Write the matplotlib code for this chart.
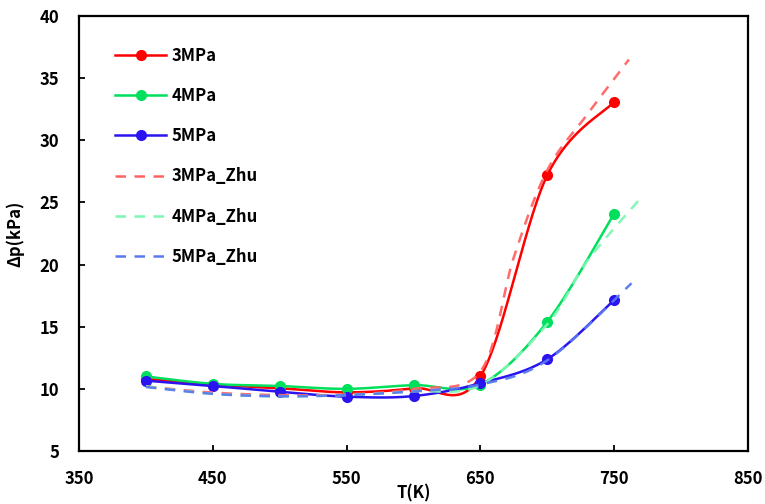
import numpy as np
import matplotlib
matplotlib.use("Agg")
import matplotlib.pyplot as plt
from matplotlib.lines import Line2D

plt.rcParams['font.family'] = ['Noto Sans CJK KR', 'DejaVu Sans']
plt.rcParams['font.weight'] = 'bold'

# Measured pressure drop (kPa) vs temperature (K)
T = [400, 450, 500, 550, 600, 650, 700, 750]
dp_3mpa = [10.8, 10.35, 10.05, 9.72, 10.05, 11.0, 27.2, 33.1]
dp_4mpa = [11.0, 10.4, 10.23, 10.0, 10.3, 10.35, 15.4, 24.1]
dp_5mpa = [10.66, 10.23, 9.77, 9.37, 9.42, 10.45, 12.38, 17.15]

# Zhu correlation curves
zhu_T_3 = [400, 450, 500, 550, 600, 650, 675, 700, 730, 761]
zhu_3 = [10.2, 9.7, 9.5, 9.55, 10.0, 11.4, 20.6, 27.6, 32.1, 36.5]
zhu_T_4 = [400, 450, 500, 550, 600, 650, 700, 730, 769]
zhu_4 = [10.2, 9.6, 9.4, 9.5, 9.8, 10.3, 15.2, 20.3, 25.25]
zhu_T_5 = [400, 450, 500, 550, 600, 650, 700, 763]
zhu_5 = [10.15, 9.6, 9.4, 9.5, 9.8, 10.35, 12.3, 18.5]

labels = ['3MPa', '4MPa', '5MPa', '3MPa_Zhu', '4MPa_Zhu', '5MPa_Zhu']
x_ticks = [350, 450, 550, 650, 750, 850]
y_ticks = [5, 10, 15, 20, 25, 30, 35, 40]

solid_colors = ['#ff0000', '#00e05c', '#2a14f0']
dash_colors = ['#ff6464', '#7cf8b4', '#5a78f0']
dash_pattern = (4.2, 3.4)
fs = 12


def smooth_curve(xs, ys, n=40):
    """Cubic Bezier smoothing through every point (spreadsheet-style)."""
    P = np.column_stack([xs, ys]).astype(float)
    m = len(P)
    pts = [P[0]]
    t = np.linspace(0, 1, n)[1:, None]
    for i in range(m - 1):
        p0 = P[i - 1] if i > 0 else P[i]
        p1, p2 = P[i], P[i + 1]
        p3 = P[i + 2] if i + 2 < m else P[i + 1]
        c1 = p1 + (p2 - p0) / 6.0
        c2 = p2 - (p3 - p1) / 6.0
        seg = ((1 - t) ** 3) * p1 + 3 * ((1 - t) ** 2) * t * c1 \
            + 3 * (1 - t) * t ** 2 * c2 + t ** 3 * p2
        pts.extend(seg)
    pts = np.array(pts)
    return pts[:, 0], pts[:, 1]


fig = plt.figure(figsize=(7.65, 5.04), dpi=100)
ax = fig.add_axes([79 / 765, 53 / 504, 669 / 765, 435 / 504])

lw = 1.8
for ys, c in zip([dp_3mpa, dp_4mpa, dp_5mpa], solid_colors):
    sx, sy = smooth_curve(T, ys)
    ax.plot(sx, sy, color=c, lw=lw, solid_capstyle='round', zorder=2)
    ax.plot(T, ys, 'o', color=c, ms=7, zorder=3)

for xs, ys, c in zip([zhu_T_3, zhu_T_4, zhu_T_5], [zhu_3, zhu_4, zhu_5], dash_colors):
    sx, sy = smooth_curve(xs, ys)
    ax.plot(sx, sy, color=c, lw=lw, dashes=dash_pattern, alpha=0.95, zorder=4)

ax.set_xlim(350, 850)
ax.set_ylim(5, 40)
ax.set_xticks(x_ticks)
ax.set_yticks(y_ticks)
ax.tick_params(direction='in', length=4, width=1.3, labelsize=fs, pad=14,
               top=False, right=False)
for lab in ax.get_xticklabels() + ax.get_yticklabels():
    lab.set_fontweight('bold')
for sp in ax.spines.values():
    sp.set_linewidth(1.6)
    sp.set_color('black')

ax.set_xlabel('T(K)', fontsize=fs, fontweight='bold', labelpad=-3)
ax.set_ylabel('Δp(kPa)', fontsize=fs, fontweight='bold', labelpad=11)

handles = [Line2D([], [], color=c, lw=lw, marker='o', ms=7) for c in solid_colors]
handles += [Line2D([], [], color=c, lw=lw, dashes=dash_pattern) for c in dash_colors]
leg = ax.legend(handles, labels, loc='upper left', bbox_to_anchor=(0.0435, 0.945),
                frameon=False, handlelength=3.1, handletextpad=0.3,
                labelspacing=1.335, borderaxespad=0, numpoints=1,
                prop={'size': fs, 'weight': 'bold'})

fig.savefig('out.png', dpi=100)
